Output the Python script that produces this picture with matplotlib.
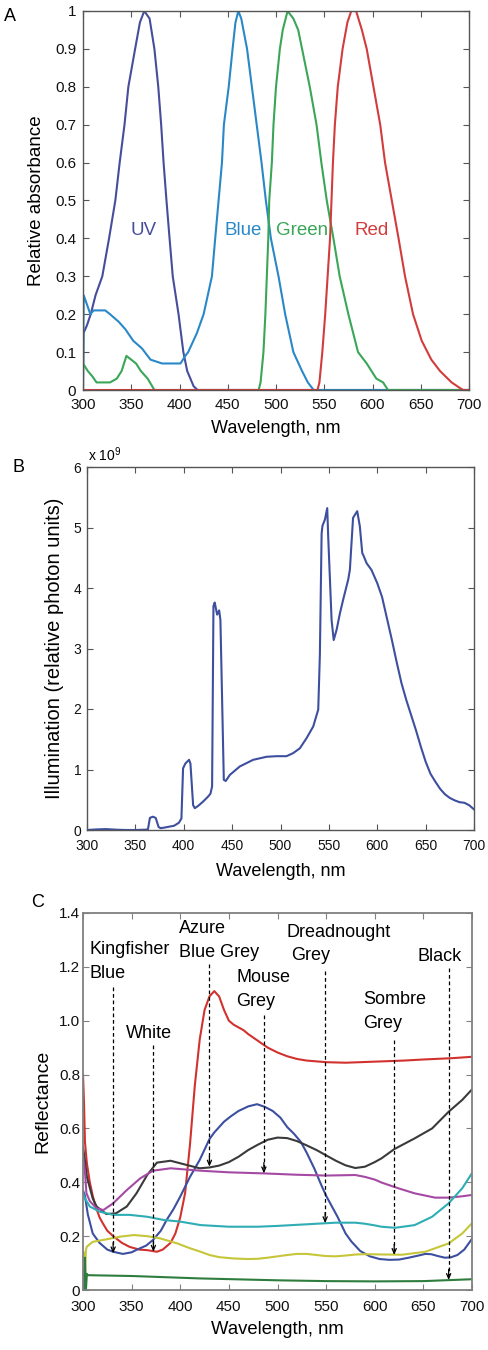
import matplotlib
matplotlib.use("Agg")
import matplotlib.pyplot as plt
from matplotlib.ticker import FuncFormatter, MultipleLocator

plt.rcParams['font.family'] = ['Liberation Sans', 'DejaVu Sans']
plt.rcParams['mathtext.default'] = 'regular'

# ---------------- Panel A: relative absorbance ----------------
uv_wl = [300, 300.5, 304, 308, 313, 320, 327, 333.5, 338, 343, 347, 354, 359, 363.5, 369, 374, 378, 381,
         383.5, 386.5, 389.7, 393, 399, 404, 408, 414.6, 418.7, 700]
uv_val = [0, 0.15, 0.17, 0.2, 0.25, 0.3, 0.4, 0.5, 0.6, 0.7, 0.8, 0.9, 0.97, 1.0, 0.98, 0.9, 0.8, 0.7,
          0.6, 0.5, 0.4, 0.3, 0.2, 0.1, 0.05, 0.01, 0, 0]

blue_wl = [300, 300.7, 303.5, 307.6, 311, 323, 328, 337, 344, 352, 361, 370, 382, 401, 406, 409, 418, 425,
           433.6, 437, 440.5, 444, 446, 451, 455, 458, 461, 464, 470, 475, 480, 485, 489.5, 494.7, 502.6,
           509.5, 518, 527, 533, 539, 700]
blue_val = [0, 0.25, 0.23, 0.2, 0.21, 0.21, 0.2, 0.18, 0.16, 0.13, 0.11, 0.08, 0.07, 0.07, 0.09, 0.1, 0.15, 0.2,
            0.3, 0.4, 0.5, 0.6, 0.7, 0.8, 0.9, 0.97, 1.0, 0.98, 0.9, 0.8, 0.7, 0.6, 0.5, 0.4, 0.3,
            0.2, 0.1, 0.05, 0.02, 0, 0]

green_wl = [300, 305, 310, 314, 328, 335, 340, 345, 350, 355, 360, 367, 374, 482, 484, 487, 489, 490.5,
            492, 493, 495.7, 497.4, 500, 504, 507, 512, 518, 523, 527, 535, 542, 547, 552.6, 559.5, 566,
            575, 585, 594, 604, 611, 616, 700]
green_val = [0.07, 0.05, 0.035, 0.02, 0.02, 0.03, 0.05, 0.09, 0.08, 0.07, 0.05, 0.03, 0, 0, 0.02, 0.1, 0.2, 0.3,
             0.4, 0.5, 0.6, 0.7, 0.8, 0.9, 0.95, 1.0, 0.98, 0.95, 0.9, 0.8, 0.7, 0.6, 0.5, 0.4, 0.3,
             0.2, 0.1, 0.07, 0.03, 0.02, 0, 0]

red_wl = [300, 543, 545, 548, 551, 553.5, 556, 557.5, 559, 561, 564, 569, 574, 578, 583, 589, 594, 601,
          608, 613, 620, 627, 633.7, 642, 651, 661, 670, 682, 690.7, 694, 700]
red_val = [0, 0, 0.02, 0.1, 0.2, 0.3, 0.4, 0.5, 0.6, 0.7, 0.8, 0.9, 0.97, 1.0, 1.0, 0.95, 0.9, 0.8,
           0.7, 0.6, 0.5, 0.4, 0.3, 0.2, 0.13, 0.08, 0.05, 0.02, 0.005, 0, 0]

a_labels = ['UV', 'Blue', 'Green', 'Red']
a_colors = ['#474d9c', '#2a88c8', '#3aa657', '#d23c3c']

# ---------------- Panel B: illumination (x 1e9) ----------------
illum_wl = [300, 310, 320, 330, 340, 350, 360, 363, 365, 368, 371, 374, 376, 380, 390, 395, 397.6, 399.3,
            401.7, 405.5, 406.9, 409.7, 411.4, 415, 420, 425, 427.6, 429.3, 430.7, 432, 434.5, 436.6,
            437.9, 441.4, 443.4, 447.6, 457.9, 471.7, 485.5, 495.9, 506.2, 513, 520, 527, 533.8, 539,
            540.7, 542.5, 543.4, 545.9, 548.3, 549.3, 552.8, 555, 558, 561.4, 564.8, 570, 571.7, 575,
            579.3, 582, 584.5, 586.2, 589, 594, 600, 605, 610, 615, 620, 625, 630, 635, 640, 645, 650,
            655, 660, 665, 670, 675, 680, 685, 690, 695, 700]
illum_val = [0.0, 0.01, 0.015, 0.005, 0.0, 0.0, 0.005, 0.01, 0.2, 0.22, 0.2, 0.05, 0.03, 0.04, 0.07, 0.12, 0.19,
             1.02, 1.1, 1.16, 1.1, 0.41, 0.36, 0.4, 0.47, 0.55, 0.6, 0.72, 3.7, 3.76, 3.56, 3.63,
             3.47, 0.83, 0.81, 0.91, 1.05, 1.16, 1.21, 1.22, 1.22, 1.27, 1.35, 1.52, 1.71, 1.99,
             2.9, 4.9, 5.03, 5.13, 5.32, 4.85, 3.47, 3.14, 3.31, 3.58, 3.81, 4.14, 4.3, 5.16,
             5.27, 5.02, 4.58, 4.52, 4.41, 4.3, 4.08, 3.85, 3.5, 3.15, 2.78, 2.43, 2.15, 1.9, 1.65, 1.38, 1.13,
             0.93, 0.8, 0.68, 0.59, 0.53, 0.49, 0.46, 0.45, 0.41, 0.34]

# ---------------- Panel C: reflectance ----------------
c_red_wl = [300, 301, 302, 304, 307, 310, 313, 317, 320, 325, 331, 340, 348, 358, 366, 376, 382, 390, 395,
            400, 405, 410, 415, 420, 425, 430, 435, 440, 445, 450, 455, 460, 465, 470, 480, 490, 500, 510,
            520, 530, 550, 570, 600, 630, 650, 680, 700]
c_red_val = [0.80, 0.70, 0.55, 0.47, 0.40, 0.35, 0.31, 0.27, 0.25, 0.22, 0.20, 0.175, 0.16, 0.15, 0.148, 0.142,
             0.15, 0.175, 0.21, 0.27, 0.36, 0.54, 0.76, 0.93, 1.04, 1.09, 1.11, 1.09, 1.04, 1.0, 0.985,
             0.975, 0.965, 0.95, 0.925, 0.90, 0.882, 0.868, 0.858, 0.852, 0.846, 0.844, 0.848, 0.852,
             0.856, 0.861, 0.866]

c_blue_wl = [300, 302, 305, 310, 317, 325, 331, 341, 350, 355, 365, 372, 380, 386, 393, 400, 410, 420, 430,
             435, 445, 452, 460, 470, 479, 487, 495, 503, 510, 517, 524, 530, 538, 545, 550, 556, 562, 570,
             576, 585, 595, 605, 615, 625, 635, 645, 652, 658, 665, 672, 678, 685, 692, 700]
c_blue_val = [0.37, 0.35, 0.28, 0.21, 0.175, 0.15, 0.142, 0.134, 0.14, 0.149, 0.165, 0.186, 0.22, 0.26, 0.30,
              0.347, 0.42, 0.483, 0.56, 0.585, 0.625, 0.645, 0.665, 0.682, 0.69, 0.68, 0.665, 0.64, 0.605,
              0.58, 0.55, 0.51, 0.45, 0.39, 0.35, 0.31, 0.27, 0.21, 0.18, 0.145, 0.125, 0.115, 0.112, 0.113,
              0.12, 0.128, 0.134, 0.133, 0.126, 0.12, 0.121, 0.13, 0.15, 0.19]

c_black_wl = [300, 302, 304, 307, 310, 314, 324, 334, 345, 355, 366, 376, 390, 407, 420, 430, 440, 450, 460,
              470, 480, 490, 500, 510, 520, 530, 540, 550, 560, 570, 580, 590, 600, 607, 620, 641, 659,
              676, 690, 700]
c_black_val = [0.53, 0.48, 0.42, 0.38, 0.34, 0.31, 0.282, 0.285, 0.31, 0.359, 0.427, 0.473, 0.48, 0.464,
               0.452, 0.455, 0.462, 0.475, 0.495, 0.52, 0.54, 0.558, 0.566, 0.564, 0.553, 0.537, 0.52, 0.50,
               0.48, 0.463, 0.453, 0.458, 0.475, 0.489, 0.523, 0.563, 0.60, 0.662, 0.706, 0.745]

c_purple_wl = [300, 302, 303.5, 307, 314, 321, 331, 345, 359, 372, 390, 421, 450, 486, 520, 550, 580, 590,
               600, 607, 624, 641, 662, 676, 690, 700]
c_purple_val = [0.50, 0.44, 0.36, 0.33, 0.303, 0.297, 0.322, 0.371, 0.415, 0.443, 0.452, 0.443, 0.437, 0.433,
                0.428, 0.425, 0.427, 0.42, 0.41, 0.399, 0.378, 0.359, 0.343, 0.343, 0.348, 0.353]

c_cyan_wl = [300, 302, 307, 317, 331, 348, 366, 383, 400, 421, 450, 480, 500, 530, 560, 580, 590, 600, 607,
             621, 641, 659, 676, 690, 700]
c_cyan_val = [0.36, 0.34, 0.31, 0.291, 0.279, 0.279, 0.272, 0.26, 0.254, 0.241, 0.235, 0.235, 0.238, 0.244,
              0.25, 0.25, 0.246, 0.24, 0.235, 0.231, 0.241, 0.272, 0.322, 0.378, 0.434]

c_yellow_wl = [300, 301, 302, 303, 304, 310, 324, 338, 352, 366, 379, 397, 410, 421, 430, 440, 455, 470,
               480, 490, 500, 510, 520, 530, 540, 550, 560, 570, 581, 590, 607, 628, 652, 676, 690, 700]
c_yellow_val = [0.08, 0.14, 0.04, 0.15, 0.161, 0.179, 0.188, 0.198, 0.204, 0.20, 0.192, 0.173, 0.155, 0.142,
                0.13, 0.122, 0.117, 0.115, 0.116, 0.12, 0.125, 0.13, 0.134, 0.134, 0.13, 0.126, 0.125,
                0.128, 0.132, 0.133, 0.132, 0.131, 0.142, 0.173, 0.21, 0.248]

c_green_wl = [300, 301, 302, 303, 304, 305, 350, 420, 500, 550, 600, 650, 700]
c_green_val = [0.08, 0.0, 0.12, 0.0, 0.06, 0.055, 0.052, 0.043, 0.036, 0.033, 0.032, 0.033, 0.04]

c_colors = ['#d2322e', '#3c4fa0', '#3a3a3a', '#a54aa4', '#2eadb5', '#c6c63a', '#2e7d3e']

# annotation: label lines, arrow wavelength, arrow start (top) and target reflectance
ann_lines = [['Kingfisher', 'Blue'], ['White'], ['Azure', 'Blue Grey'], ['Mouse', 'Grey'],
             ['Dreadnought', 'Grey'], ['Sombre', 'Grey'], ['Black']]
ann_wl = [331, 372.4, 430, 486, 549, 620, 676]
ann_top = [1.127, 0.91, 1.21, 1.02, 1.183, 0.93, 1.195]
ann_target = [0.136, 0.142, 0.458, 0.433, 0.248, 0.13, 0.037]

# ================= figure =================
fig = plt.figure(figsize=(4.88, 13.5), dpi=100)
W, H = 488.0, 1350.0


def axes_px(l, t, r, b):
    return fig.add_axes([l / W, 1 - b / H, (r - l) / W, (b - t) / H])


def style(ax, spine_color, fs, xpad, ypad):
    for s in ax.spines.values():
        s.set_color(spine_color)
        s.set_linewidth(1.0)
    ax.tick_params(direction='in', top=True, right=True, length=4, width=0.8,
                   labelsize=fs, color=spine_color, labelcolor='#111111')
    ax.tick_params(axis='x', pad=xpad)
    ax.tick_params(axis='y', pad=ypad)


# ---- A ----
axA = axes_px(83, 11, 469, 390)
for wl, val, col in zip([uv_wl, blue_wl, green_wl, red_wl], [uv_val, blue_val, green_val, red_val], a_colors):
    axA.plot(wl, val, color=col, lw=1.5, clip_on=True)
label_x = [362.5, 466.3, 527.5, 598.6]
for lab, col, x in zip(a_labels, a_colors, label_x):
    axA.text(x, 0.409, lab, color=col, fontsize=13.5, ha='center', va='baseline')
axA.set_xlim(300, 700)
axA.set_ylim(0, 1)
axA.xaxis.set_major_locator(MultipleLocator(50))
axA.yaxis.set_major_locator(MultipleLocator(0.1))
axA.yaxis.set_major_formatter(FuncFormatter(lambda v, p: '0' if abs(v) < 1e-9 else ('1' if abs(v - 1) < 1e-9 else f'{v:.1f}')))
style(axA, '#555555', 11, 5.5, 5)
axA.set_xlabel('Wavelength, nm', fontsize=13)
axA.set_ylabel('Relative absorbance', fontsize=13.5)
axA.xaxis.set_label_coords(0.5, -0.079)
axA.yaxis.set_label_coords(-0.098, 0.5)

# ---- B ----
axB = axes_px(87, 467, 474, 830)
axB.plot(illum_wl, illum_val, color='#3d4f9e', lw=1.5)
axB.set_xlim(300, 700)
axB.set_ylim(0, 6)
axB.xaxis.set_major_locator(MultipleLocator(50))
axB.yaxis.set_major_locator(MultipleLocator(1))
style(axB, '#555555', 10, 6.5, 4)
axB.text(0.003, 1.008, r'x 10$^{9}$', transform=axB.transAxes, fontsize=10, ha='left', va='bottom')
axB.set_xlabel('Wavelength, nm', fontsize=13)
axB.set_ylabel('Illumination (relative photon units)', fontsize=14.5)
axB.xaxis.set_label_coords(0.5, -0.091)
axB.yaxis.set_label_coords(-0.059, 0.5)

# ---- C ----
axC = axes_px(83, 913, 472, 1290)
for wl, val, col in zip([c_red_wl, c_blue_wl, c_black_wl, c_purple_wl, c_cyan_wl, c_yellow_wl, c_green_wl],
                        [c_red_val, c_blue_val, c_black_val, c_purple_val, c_cyan_val, c_yellow_val, c_green_val],
                        c_colors):
    axC.plot(wl, val, color=col, lw=1.5)

text_pos = [(306.2, [1.247, 1.158]), (344.1, [0.935]), (398.3, [1.325, 1.238]), (457.6, [1.1455, 1.056]),
            (509.7, [1.3127, 1.226]), (588.0, [1.0625, 0.972]), (644.1, [1.22])]
dx_second = [0, 0, 0, 0, 4.8, 0, 0]
for lines, (tx, tys), dx, wl, y0, y1 in zip(ann_lines, text_pos, dx_second, ann_wl, ann_top, ann_target):
    for i, (ln, ty) in enumerate(zip(lines, tys)):
        axC.text(tx + (dx if i > 0 else 0), ty, ln, fontsize=13, ha='left', va='baseline', color='black')
    axC.plot([wl, wl], [y0, y1 + 0.02], color='black', lw=0.9, dashes=(3, 2.2))
    axC.annotate('', xy=(wl, y1), xytext=(wl, y1 + 0.04),
                 arrowprops=dict(arrowstyle='->,head_length=0.35,head_width=0.15', lw=0.9,
                                 color='black', shrinkA=0, shrinkB=0))

axC.set_xlim(300, 700)
axC.set_ylim(0, 1.4)
axC.xaxis.set_major_locator(MultipleLocator(50))
axC.yaxis.set_major_locator(MultipleLocator(0.2))
axC.yaxis.set_major_formatter(FuncFormatter(lambda v, p: '0' if abs(v) < 1e-9 else f'{v:.1f}'))
style(axC, '#808080', 11, 7, 2)
for s in axC.spines.values():
    s.set_linewidth(1.3)
axC.set_xlabel('Wavelength, nm', fontsize=13.3)
axC.set_ylabel('Reflectance', fontsize=14)
axC.xaxis.set_label_coords(0.5, -0.082)
axC.yaxis.set_label_coords(-0.082, 0.5)

# panel letters
fig.text(4 / W, 1 - 8 / H, 'A', fontsize=13, ha='left', va='top')
fig.text(13 / W, 1 - 459 / H, 'B', fontsize=13, ha='left', va='top')
fig.text(31 / W, 1 - 894 / H, 'C', fontsize=13, ha='left', va='top')

fig.savefig('out.png', dpi=100)
